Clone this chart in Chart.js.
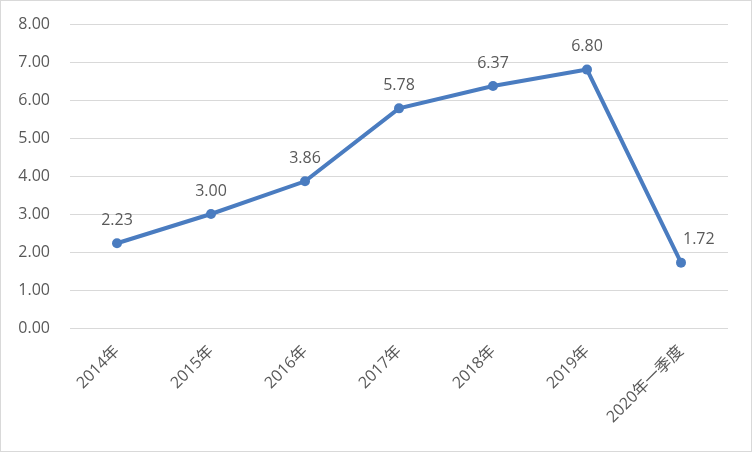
<!DOCTYPE html>
<html>
<head>
<meta charset="utf-8">
<script src="https://cdn.jsdelivr.net/npm/chart.js@4"></script>
<style>
  body { margin: 0; background: #fff; }
  #wrap { width: 750px; height: 450px; border: 1px solid #d9d9d9; position: relative; }
</style>
</head>
<body>
<div id="wrap"><canvas id="chart" width="750" height="450"></canvas></div>
<script>
const categories = ["2014年", "2015年", "2016年", "2017年", "2018年", "2019年", "2020年一季度"];
const values = [2.23, 3.00, 3.86, 5.78, 6.37, 6.80, 1.72];
const yTicks = [0, 1, 2, 3, 4, 5, 6, 7, 8];

const fontFamily = "'Open Sans', 'Noto Sans CJK SC', sans-serif";
const textColor = "#595959";
const lineColor = "#4a7cc0";

// draws the value above each point (last one sits to the right)
const pointLabels = {
    id: "pointLabels",
    afterDatasetsDraw(chart) {
        const ctx = chart.ctx;
        const meta = chart.getDatasetMeta(0);
        ctx.save();
        ctx.font = "16px " + fontFamily;
        ctx.fillStyle = textColor;
        ctx.textBaseline = "bottom";
        meta.data.forEach((pt, i) => {
            const txt = values[i].toFixed(2);
            if (i === values.length - 1) {
                ctx.textAlign = "left";
                ctx.fillText(txt, pt.x + 2, pt.y - 15);
            } else {
                ctx.textAlign = "center";
                ctx.fillText(txt, pt.x, pt.y - 15);
            }
        });
        ctx.restore();
    },
};

new Chart(document.getElementById("chart"), {
    type: "line",
    data: {
        labels: categories,
        datasets: [{
            data: values,
            borderColor: lineColor,
            backgroundColor: lineColor,
            borderWidth: 4,
            pointRadius: 5,
            pointBorderWidth: 0,
            pointBackgroundColor: lineColor,
            tension: 0,
        }],
    },
    options: {
        responsive: false,
        animation: false,
        layout: { padding: { top: 23, right: 23, left: 0, bottom: 0 } },
        plugins: {
            legend: { display: false },
            tooltip: { enabled: false },
        },
        scales: {
            x: {
                offset: true,
                grid: { display: false, drawTicks: false },
                border: { display: false },
                ticks: {
                    color: textColor,
                    font: { family: fontFamily, size: 16 },
                    maxRotation: 45,
                    minRotation: 45,
                    padding: 14,
                },
                afterFit(axis) {
                    axis.height = 123;
                    axis.paddingLeft = 0;
                    axis.paddingRight = 0;
                },
            },
            y: {
                min: 0,
                max: 8,
                afterBuildTicks(axis) { axis.ticks = yTicks.map(v => ({ value: v })); },
                grid: { color: "#d9d9d9", lineWidth: 1, drawTicks: false },
                border: { display: false },
                ticks: {
                    color: textColor,
                    font: { family: fontFamily, size: 16 },
                    padding: 20,
                    callback: v => Number(v).toFixed(2),
                },
                afterFit(axis) {
                    axis.width = 69;
                    axis.paddingTop = 0;
                    axis.paddingBottom = 0;
                },
            },
        },
    },
    plugins: [pointLabels],
});
</script>
</body>
</html>
